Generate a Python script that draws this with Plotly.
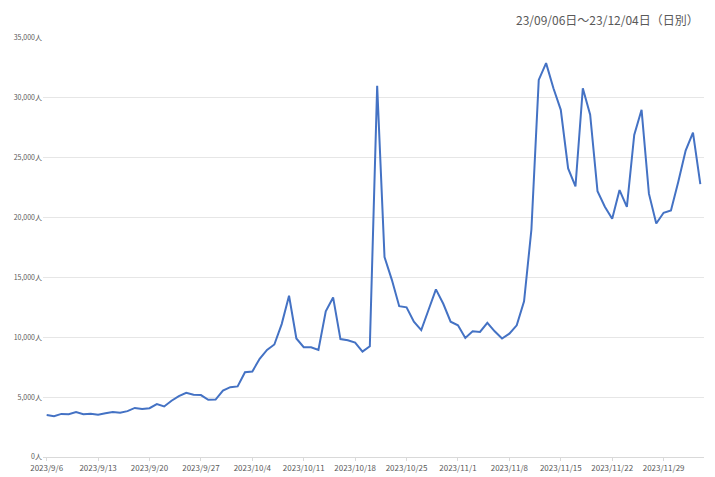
import plotly.graph_objects as go
import pandas as pd

values = [3500,3400,3600,3580,3750,3580,3620,3530,3650,3750,3700,3830,4100,4000,4080,4420,4220,4700,5080,5360,5200,5170,4780,4800,5550,
5830,5900,7080,7140,8200,8950,9400,11100,13470,9900,9170,9170,8950,12170,13330,9850,9750,9550,8800,9250,31000,16700,14800,12600,12500,11300,10600,12300,14000,12800,11300,
11000,9950,10500,10450,11200,10500,9900,10300,11000,13000,19000,31500,32900,30800,29000,24100,22600,30800,28600,22200,20900,19900,22300,20900,26900,29000,22000,19500,20400,20600,
23000,25600,27100,22800]
dates = pd.date_range("2023-09-06", periods=len(values), freq="D")
tick_dates = pd.date_range("2023-09-06", "2023-12-04", freq="7D")
tick_text = [f"{d.year}/{d.month}/{d.day}" for d in tick_dates]
y_ticks = [0,5000,10000,15000,20000,25000,30000,35000]
y_text = [f"{v:,}人" for v in y_ticks]
title = "23/09/06日～23/12/04日（日別）"

fig = go.Figure(go.Scatter(x=dates, y=values, mode="lines", line=dict(color="#4472C4", width=2)))
fig.update_layout(
    width=700, height=465, margin=dict(l=35, r=4, t=30, b=16, autoexpand=False),
    plot_bgcolor="white", paper_bgcolor="white", showlegend=False,
    font=dict(family="Noto Sans CJK JP", color="#595959"),
    annotations=[dict(text=title, xref="paper", yref="paper", x=0.995, y=1, xanchor="right", yanchor="bottom",
                      yshift=8, showarrow=False, font=dict(size=12, color="#595959"))],
)
fig.update_xaxes(tickvals=tick_dates, ticktext=tick_text, tickfont=dict(size=8), automargin=False,
                 range=[dates[0]-pd.Timedelta(hours=12), dates[-1]+pd.Timedelta(hours=12)],
                 showgrid=False, showline=True, linecolor="#D9D9D9", ticks="outside", ticklen=3, tickcolor="#D9D9D9")
fig.update_yaxes(tickvals=y_ticks, ticktext=y_text, range=[0, 35000], tickfont=dict(size=7), automargin=False,
                 gridcolor="#E6E6E6", zeroline=False)
fig.write_html("out.html")
